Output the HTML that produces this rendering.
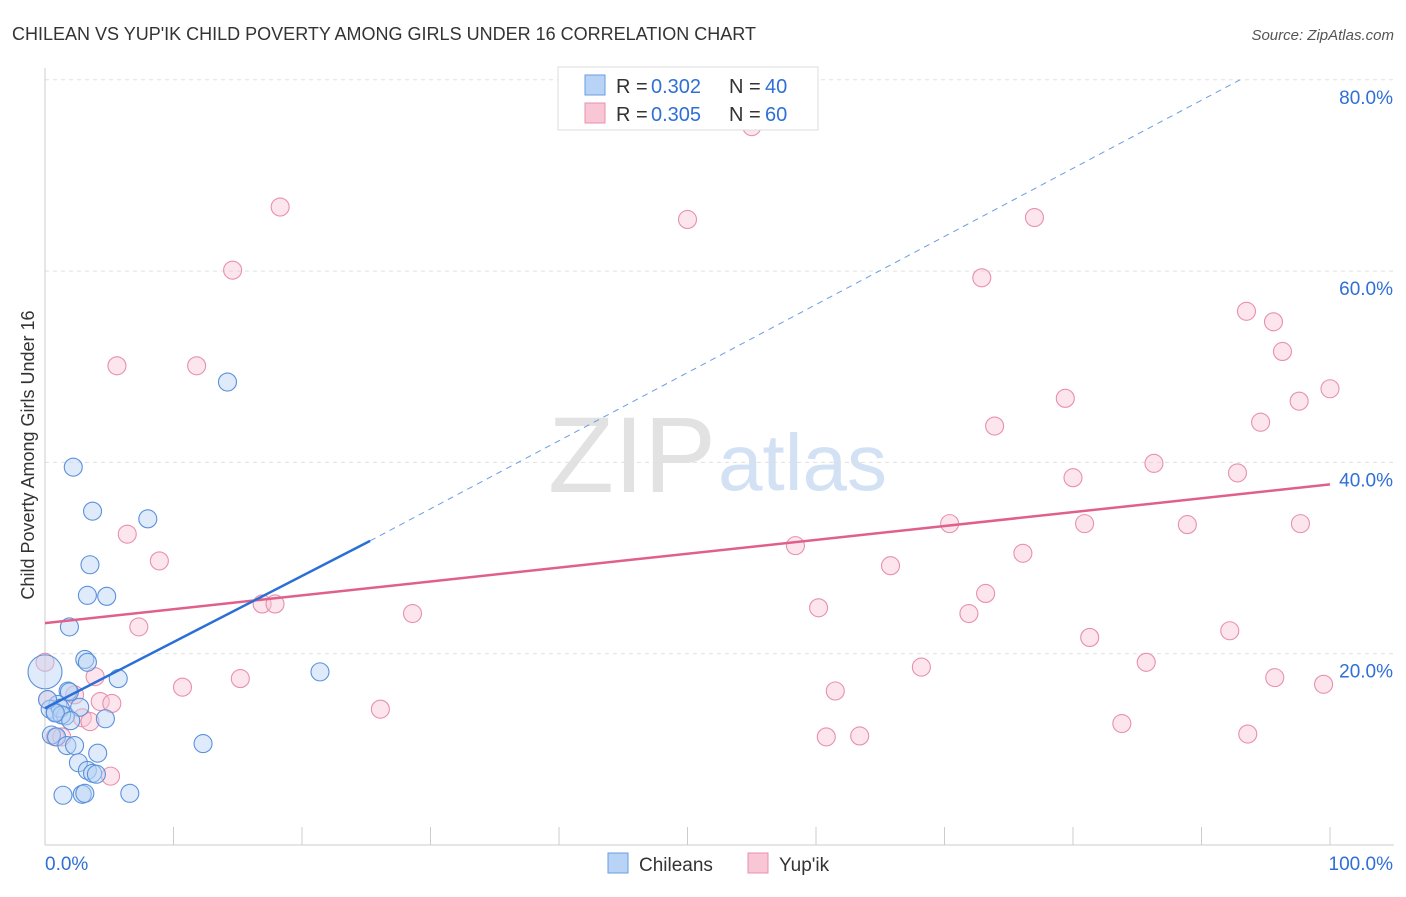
<!DOCTYPE html>
<html><head><meta charset="utf-8"><style>
body{margin:0;background:#fff;font-family:"Liberation Sans",sans-serif}
svg text{font-family:"Liberation Sans",sans-serif}
</style></head><body>
<svg id="c" width="1406" height="892">
<text x="12" y="40" font-size="18" fill="#333">CHILEAN VS YUP'IK CHILD POVERTY AMONG GIRLS UNDER 16 CORRELATION CHART</text>
<text x="1394" y="40" font-size="15" fill="#555" text-anchor="end" font-style="italic">Source: ZipAtlas.com</text>
<text x="716" y="492" font-size="108" fill="#e2e2e2" text-anchor="end" font-family="Liberation Serif">ZIP</text>
<text x="718" y="490" font-size="80" fill="#d3e1f5">atlas</text>
<text transform="translate(34,455) rotate(-90)" font-size="18" fill="#333" text-anchor="middle">Child Poverty Among Girls Under 16</text>
<g id="grid"></g><g id="marks"></g>
<g>
<rect x="558" y="67" width="260" height="63" fill="#fff" stroke="#ddd"/>
<rect x="585" y="75" width="20" height="20" fill="#b8d3f5" stroke="#6a9de0"/>
<rect x="585" y="103" width="20" height="20" fill="#f9c6d5" stroke="#e890ad"/>
<text x="616" y="93" font-size="20" fill="#333">R =</text><text x="651" y="93" font-size="20" fill="#2f6fd6">0.302</text>
<text x="729" y="93" font-size="20" fill="#333">N =</text><text x="765" y="93" font-size="20" fill="#2f6fd6">40</text>
<text x="616" y="121" font-size="20" fill="#333">R =</text><text x="651" y="121" font-size="20" fill="#2f6fd6">0.305</text>
<text x="729" y="121" font-size="20" fill="#333">N =</text><text x="765" y="121" font-size="20" fill="#2f6fd6">60</text>
</g>
<g>
<rect x="608" y="853" width="20" height="20" fill="#b8d3f5" stroke="#6a9de0"/>
<text x="639" y="871" font-size="19" fill="#333">Chileans</text>
<rect x="748" y="853" width="20" height="20" fill="#f9c6d5" stroke="#e890ad"/>
<text x="779" y="871" font-size="19" fill="#333">Yup'ik</text>
</g>
</svg>
<script>
const yTicks=[20,40,60,80];
const xTickLabels=["0.0%","100.0%"];
const blueX=[2.2,3.7,8.0,3.5,3.3,4.8,1.9,3.1,3.3,5.7,21.4,14.2,1.8,1.9,1.0,0.4,0.8,1.6,4.7,0.5,0.9,1.7,2.3,4.1,2.6,3.3,3.7,4.0,1.4,2.9,3.1,6.6,12.3,1.2,1.3,0.2,2.7,0.8,2.0,0];
const blueY=[39.5,34.9,34.1,29.3,26.1,26.0,22.8,19.4,19.1,17.4,18.1,48.4,16.1,16.0,14.7,14.2,13.9,13.5,13.2,11.5,11.3,10.4,10.4,9.6,8.6,7.8,7.5,7.4,5.2,5.3,5.4,5.4,10.6,14.3,13.6,15.2,14.4,13.8,13.0,18.1];
const pinkX=[55.0,18.3,50.0,77.0,14.6,72.9,93.5,95.6,96.3,5.6,11.8,79.4,100,97.6,73.9,94.6,86.3,80.0,92.8,6.4,70.4,80.9,88.9,97.7,8.9,58.4,76.1,65.8,16.9,17.9,73.2,28.6,60.2,71.9,7.3,81.3,92.2,68.2,85.7,0,10.7,15.2,61.5,95.7,99.5,3.9,2.3,4.3,5.2,2.9,3.5,26.1,83.8,60.8,63.4,93.6,0.8,1.3,5.1,0.2];
const pinkY=[75.1,66.7,65.4,65.6,60.1,59.3,55.8,54.7,51.6,50.1,50.1,46.7,47.7,46.4,43.8,44.2,39.9,38.4,38.9,32.5,33.6,33.6,33.5,33.6,29.7,31.3,30.5,29.2,25.2,25.2,26.3,24.2,24.8,24.2,22.8,21.7,22.4,18.6,19.1,19.1,16.5,17.4,16.1,17.5,16.8,17.6,15.7,15.0,14.8,13.3,12.9,14.2,12.7,11.3,11.4,11.6,11.3,11.3,7.2,15.2];
const pinkTrend=[[0,23.2],[100,37.7]];
const blueTrend=[[0,14.3],[25.3,31.8]];
const blueDash=[[25.3,31.8],[93.0,80.0]];
const X=v=>45+v*12.85, Y=v=>845-v*9.565;
const NS="http://www.w3.org/2000/svg";
const g=document.getElementById('grid'), m=document.getElementById('marks');
function el(t,a,p){const e=document.createElementNS(NS,t);for(const k in a)e.setAttribute(k,a[k]);p.appendChild(e);return e;}
yTicks.forEach(t=>{
 const l=el('line',{x1:45,x2:1394,y1:Y(t),y2:Y(t),stroke:'#e0e0e0','stroke-dasharray':'4,4'},g);
 
 
 const tx=el('text',{x:1393,y:Y(t)+24,'font-size':19,fill:'#2f6fd6','text-anchor':'end'},g);tx.textContent=t+'.0%';
 
 
});
const ax=el('line',{x1:45,x2:1394,y1:845,y2:845,stroke:'#ccc'},g);


const ay=el('line',{x1:45,x2:45,y1:68,y2:845,stroke:'#ccc'},g);


for(let i=0;i<=10;i++){const t=el('line',{x1:X(i*10),x2:X(i*10),y1:827,y2:845,stroke:'#ccc'},g);
 
 }
[[0,'start',45],[100,'end',1393]].forEach((d,i)=>{const t=el('text',{x:d[2],y:870,'font-size':19,fill:'#2f6fd6','text-anchor':d[1]},g);t.textContent=xTickLabels[i];
 
 });
function dot(x,y,r,f,s,n){const c=el('circle',{cx:X(x),cy:Y(y),r:r,fill:f,'fill-opacity':0.45,stroke:s,'stroke-width':1.1},m);
 
 }
pinkX.forEach((x,i)=>dot(x,pinkY[i],9,'#f9c6d5','#e890ad','yupik-point'));
blueX.forEach((x,i)=>dot(x,blueY[i],i==blueX.length-1?17:9,'#b8d3f5','#5a91dc','chilean-point'));
function line(d,st,w,da,n){const l=el('line',{x1:X(d[0][0]),y1:Y(d[0][1]),x2:X(d[1][0]),y2:Y(d[1][1]),stroke:st,'stroke-width':w},m);if(da)l.setAttribute('stroke-dasharray',da);
 
 }
line(pinkTrend,'#e0608a',2.5,null,'yupik-trend-line');
line(blueTrend,'#2a6fd6',2.5,null,'chilean-trend-line');
line(blueDash,'#6a9de0',1,'6,5','chilean-trend-extension');
</script>
</body></html>
